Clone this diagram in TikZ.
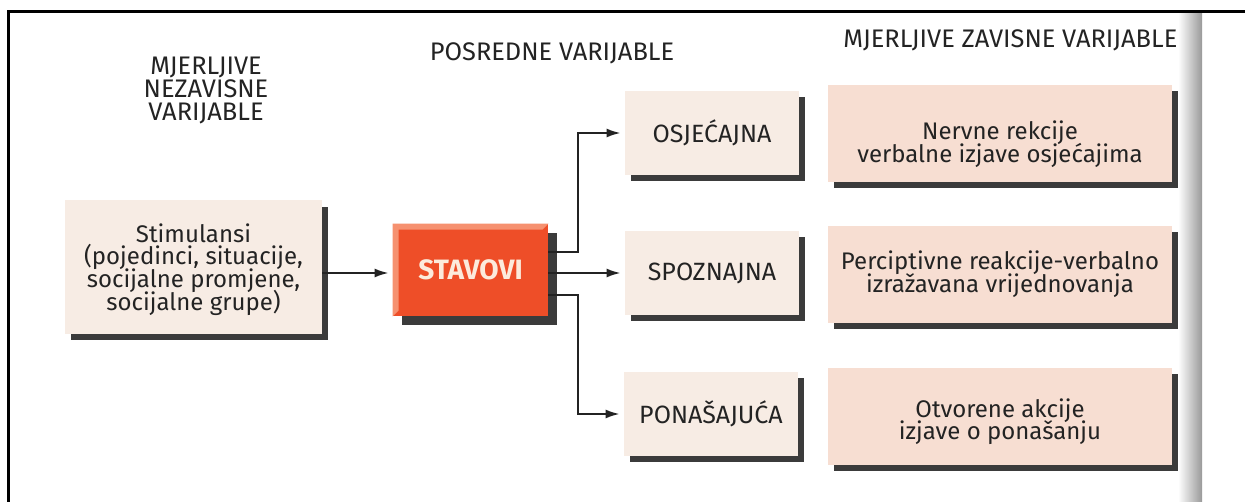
\documentclass[tikz,border=0pt]{standalone}
\usepackage{fontspec}
\setmainfont{Fira Sans}
\usepackage{xcolor}
\usetikzlibrary{shadows}
\usetikzlibrary{calc}
\usetikzlibrary{arrows.meta}

\definecolor{boxbeige}{RGB}{247,236,228}
\definecolor{boxpink}{RGB}{247,222,210}
\definecolor{stavred}{RGB}{238,78,40}
\definecolor{stavlight}{RGB}{246,145,112}
\definecolor{stavtext}{RGB}{252,235,220}
\definecolor{inkgray}{RGB}{35,35,35}

\newcommand{\toppad}[1]{\rule{0pt}{#1}}
\newcommand{\tightlines}{\lineskiplimit=-20pt\relax}

\tikzset{
    headtxt/.style={align=center, text=inkgray, inner sep=0pt,
        font=\fontsize{12.7}{11.5}\selectfont\tightlines},
    varbox/.style={fill=#1, align=center, text=inkgray, inner sep=0pt,
        font=\fontsize{12}{11.4}\selectfont\tightlines,
        drop shadow={shadow xshift=3pt, shadow yshift=-3pt, fill=black!85, opacity=.9}},
    midbox/.style={varbox=boxbeige, minimum width=87pt, minimum height=42pt, font=\fontsize{12.5}{11}\selectfont},
    outbox/.style={varbox=boxpink, minimum width=172pt, minimum height=48.5pt},
}

\begin{document}
\begin{tikzpicture}[x=.5pt, y=-.5pt, >={Latex[length=7pt,width=4.5pt]}]
    \useasboundingbox (0,0) rectangle (1245,502);
    \fill[white] (0,0) rectangle (1245,502);

    \node[headtxt] (hind) at (206,90) {MJERLJIVE\\NEZAVISNE\\VARIJABLE};
    \node[headtxt] (hmid) at (552,53) {POSREDNE VARIJABLE};
    \node[headtxt, anchor=west] (hdep) at (843,40) {MJERLJIVE ZAVISNE VARIJABLE};

    \node[varbox=boxbeige, minimum width=128.5pt, minimum height=66.5pt] (stim) at (193.5,267)
        {\toppad{11.8pt}Stimulansi\\(pojedinci, situacije,\\socijalne promjene,\\socijalne grupe)};

    \node[fill=stavred, minimum width=77.5pt, minimum height=46pt, inner sep=0pt,
        text=stavtext, font=\fontsize{14}{14}\selectfont\bfseries,
        drop shadow={shadow xshift=4.5pt, shadow yshift=-4.5pt, fill=black!85, opacity=.9}]
        (stav) at (470.5,270) {STAVOVI};
    \fill[stavlight] (stav.south west) -- (stav.north west) -- (stav.north east)
        -- ([shift={(-3pt,-3pt)}]stav.north east) -- ([shift={(3pt,-3pt)}]stav.north west)
        -- ([shift={(3pt,3pt)}]stav.south west) -- cycle;

    \node[midbox] (osj) at (712,133) {OSJEĆAJNA};
    \node[midbox] (spo) at (712,273) {SPOZNAJNA};
    \node[midbox] (pon) at (711,414) {PONAŠAJUĆA};

    \node[outbox] (ner) at (1000,133.5) {\toppad{20pt}Nervne rekcije\\verbalne izjave osjećajima};
    \node[outbox] (per) at (1000,274.5) {Perciptivne reakcije-verbalno\\izražavana vrijednovanja};
    \node[outbox] (otv) at (1000,416) {\toppad{15pt}Otvorene akcije\\izjave o ponašanju};

    \coordinate (split) at (578,273);
    \begin{scope}[draw=inkgray, line width=1pt, shorten >=2pt]
        \draw[->] (stim.east |- spo) -- (stav.west |- spo);
        \draw[->] ([yshift=9pt]stav.east) -| (split |- osj) -- (osj.west);
        \draw[->] (stav.east |- spo) -- (spo.west);
        \draw[->] ([yshift=-12.5pt]stav.east) -| (split |- pon) -- (pon.west);
    \end{scope}

    \shade[left color=white, right color=black!40] (1178,14) rectangle (1202,502);
    \draw[line width=1.5pt] (8,502) -- (8,12) -- (1245,12);
\end{tikzpicture}
\end{document}
